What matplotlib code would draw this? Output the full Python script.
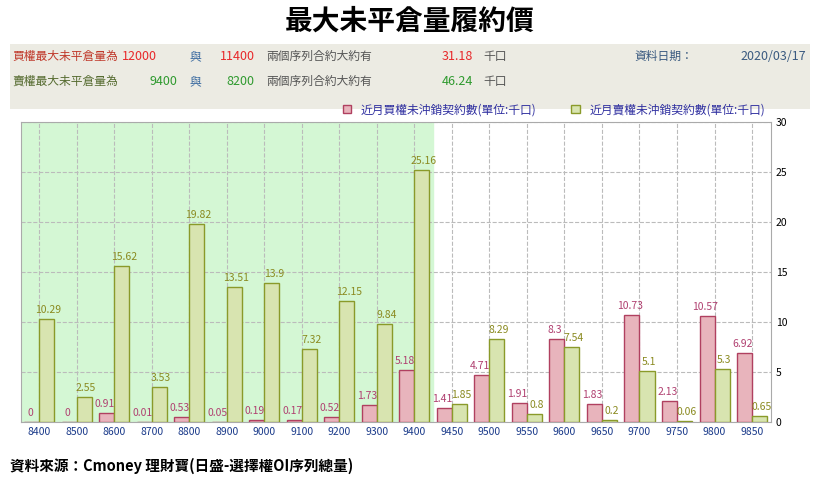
import matplotlib.pyplot as plt
import numpy as np

plt.rcParams['font.family'] = ['Noto Sans CJK JP', 'Noto Sans CJK SC', 'DejaVu Sans']

strikes = ['8400', '8500', '8600', '8700', '8800', '8900', '9000', '9100', '9200', '9300', '9400',
           '9450', '9500', '9550', '9600', '9650', '9700', '9750', '9800', '9850']
call_oi = [0, 0, 0.91, 0.01, 0.53, 0.05, 0.19, 0.17, 0.52, 1.73, 5.18,
           1.41, 4.71, 1.91, 8.3, 1.83, 10.73, 2.13, 10.57, 6.92]
put_oi = [10.29, 2.55, 15.62, 3.53, 19.82, 13.51, 13.9, 7.32, 12.15, 9.84, 25.16,
          1.85, 8.29, 0.8, 7.54, 0.2, 5.1, 0.06, 5.3, 0.65]

fig = plt.figure(figsize=(8.2, 4.84), dpi=100)
fig.patch.set_facecolor('white')

fig.text(0.5, 0.955, '最大未平倉量履約價', ha='center', va='center', fontsize=20, fontweight='bold')

# header band
hdr = fig.add_axes([0.012, 0.775, 0.976, 0.135])
hdr.set_facecolor('#ecebe3')
hdr.set_xticks([]); hdr.set_yticks([])
for s in hdr.spines.values():
    s.set_visible(False)
red, grn, gry = '#e8282a', '#2f9a2f', '#555555'
y1, y2 = 0.80, 0.42
hdr.text(0.003, y1, '買權最大未平倉量為', color='#c0392b', fontsize=8.5, va='center')
hdr.text(0.14, y1, '12000', color=red, fontsize=9, va='center')
hdr.text(0.225, y1, '與', color='#3a6aa0', fontsize=8.5, va='center')
hdr.text(0.262, y1, '11400', color=red, fontsize=9, va='center')
hdr.text(0.32, y1, '兩個序列合約大約有', color=gry, fontsize=8.5, va='center')
hdr.text(0.54, y1, '31.18', color=red, fontsize=9, va='center')
hdr.text(0.592, y1, '千口', color=gry, fontsize=8.5, va='center')
hdr.text(0.003, y2, '賣權最大未平倉量為', color='#556b2f', fontsize=8.5, va='center')
hdr.text(0.175, y2, '9400', color=grn, fontsize=9, va='center')
hdr.text(0.225, y2, '與', color='#3a6aa0', fontsize=8.5, va='center')
hdr.text(0.27, y2, '8200', color=grn, fontsize=9, va='center')
hdr.text(0.32, y2, '兩個序列合約大約有', color=gry, fontsize=8.5, va='center')
hdr.text(0.54, y2, '46.24', color=grn, fontsize=9, va='center')
hdr.text(0.592, y2, '千口', color=gry, fontsize=8.5, va='center')
hdr.text(0.78, y1, '資料日期：', color='#3a5a80', fontsize=8.5, va='center')
hdr.text(0.995, y1, '2020/03/17', color='#3a5a80', fontsize=9, va='center', ha='right')
hdr.set_xlim(0, 1); hdr.set_ylim(0, 1)

ax = fig.add_axes([0.025, 0.128, 0.915, 0.62])
x = np.arange(len(strikes))
w = 0.4
ax.axvspan(-0.5, 10.5, color='#d4f7d4', zorder=0)
ax.bar(x - w / 2, call_oi, w, color='#e8b4bc', edgecolor='#b04060', linewidth=1, zorder=3,
       label='近月買權未沖銷契約數(單位:千口)')
ax.bar(x + w / 2, put_oi, w, color='#d8e4b0', edgecolor='#8a9a2a', linewidth=1, zorder=3,
       label='近月賣權未沖銷契約數(單位:千口)')
for i in range(len(strikes)):
    ax.text(x[i] - w / 2 - 0.05, call_oi[i] + 0.4, f'{call_oi[i]:g}', ha='center', va='bottom',
            fontsize=7.5, color='#b04070', zorder=4)
    ax.text(x[i] + w / 2 + 0.05, put_oi[i] + 0.4, f'{put_oi[i]:g}', ha='center', va='bottom',
            fontsize=7.5, color='#8a8a20', zorder=4)
ax.set_xlim(-0.5, len(strikes) - 0.5)
ax.set_ylim(0, 30)
ax.set_xticks(x)
ax.set_xticklabels(strikes, fontsize=7.5, color='#1a3a8a')
ax.yaxis.tick_right()
ax.set_yticks(range(0, 31, 5))
ax.tick_params(axis='y', labelsize=7.5, length=0)
ax.tick_params(axis='x', length=0)
ax.grid(axis='both', linestyle='--', color='#bbbbbb', linewidth=0.8, zorder=1)
for s in ax.spines.values():
    s.set_color('#aaaaaa')
ax.legend(loc='lower right', bbox_to_anchor=(1.0, 1.0), ncol=2, frameon=False, fontsize=8.5,
          handlelength=0.7, handleheight=0.7, borderaxespad=0.1, columnspacing=3,
          labelcolor='#3030a0')

fig.text(0.012, 0.038, '資料來源：Cmoney 理財寶(日盛-選擇權OI序列總量)', fontsize=10.5,
         fontweight='bold', va='center')

fig.savefig('out.png', dpi=100)
